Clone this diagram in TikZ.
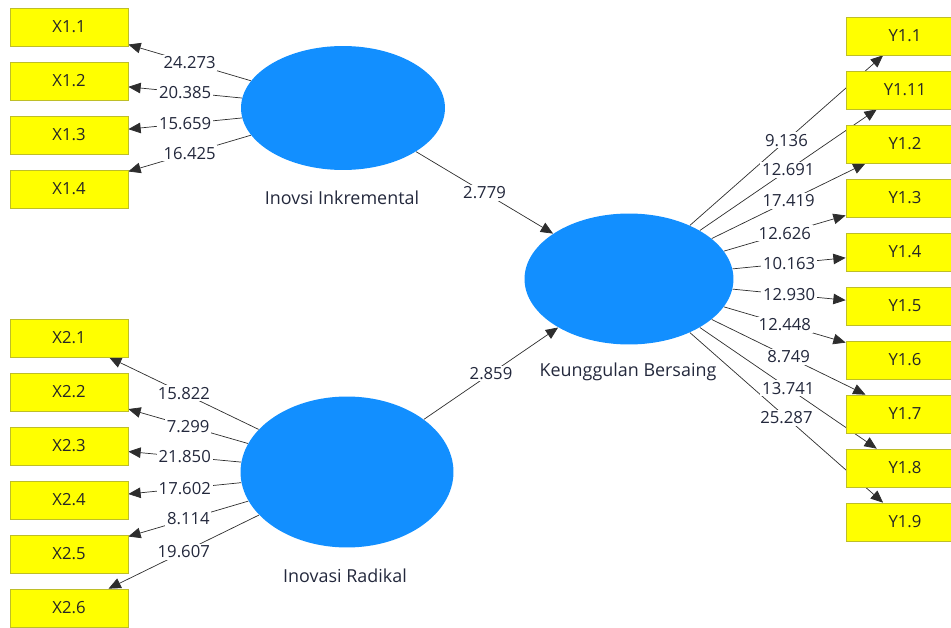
\documentclass[tikz,border=0pt]{standalone}
\usepackage{fontspec}
\setmainfont{Open Sans}
\usetikzlibrary{shapes.geometric,arrows.meta,backgrounds}
\definecolor{lvblue}{RGB}{18,143,255}
\definecolor{indyellow}{RGB}{255,255,0}
\definecolor{indborder}{RGB}{190,190,40}
\definecolor{pathgray}{RGB}{45,45,45}
\definecolor{valtext}{RGB}{35,40,60}
\begin{document}
\begin{tikzpicture}[x=0.02cm,y=-0.02cm,font=\fontsize{9.5}{11}\selectfont,
    indicator/.style={draw=indborder,fill=indyellow,minimum width=2.36cm,minimum height=0.76cm,inner sep=0pt,text=black!85},
    latent/.style={ellipse,fill=lvblue,inner sep=0pt},
    lvname/.style={text=valtext,font=\fontsize{10.2}{12}\selectfont},
    pathline/.style={draw=pathgray,-{Triangle[length=7pt,width=6pt]}},
    coef/.style={fill=white,inner sep=1pt,text=valtext}]
  \useasboundingbox (0,0) rectangle (951,628);

  \node[latent,minimum width=4.08cm,minimum height=2.48cm] (inkr) at (343,108) {};
  \node[latent,minimum width=4.26cm,minimum height=3.02cm] (radk) at (347,472) {};
  \node[latent,minimum width=4.18cm,minimum height=2.62cm] (kb) at (629,279) {};
  \node[lvname] (inkrName) at (342,198) {Inovsi Inkremental};
  \node[lvname] (radkName) at (345,576) {Inovasi Radikal};
  \node[lvname] (kbName) at (628,372) {Keunggulan Bersaing};

  \foreach \k in {1,...,4}
    \node[indicator] (x1\k) at (69,{54*\k-27}) {X1.\k};
  \foreach \k in {1,...,6}
    \node[indicator] (x2\k) at (69,{54*\k+284}) {X2.\k};
  \foreach \lab [count=\k] in {Y1.1,Y1.11,Y1.2,Y1.3,Y1.4,Y1.5,Y1.6,Y1.7,Y1.8,Y1.9}
    \node[indicator] (y\k) at (905,{54*\k-18}) {\lab};

  \begin{scope}[on background layer]
    \foreach \k in {1,...,4} \draw[pathline] (inkr) -- (x1\k);
    \foreach \k in {1,...,6} \draw[pathline] (radk) -- (x2\k);
    \foreach \k in {1,...,10} \draw[pathline] (kb) -- (y\k);
    \draw[pathline] (inkr) -- (kb);
    \draw[pathline] (radk) -- (kb);
  \end{scope}

  \foreach \k/\v in {1/24.273,2/20.385,3/15.659,4/16.425}
    \path (inkr) -- node[coef] {\v} (x1\k);
  \foreach \k/\v in {1/15.822,2/7.299,3/21.850,4/17.602,5/8.114,6/19.607}
    \path (radk) -- node[coef] {\v} (x2\k);
  \foreach \k/\v in {1/9.136,2/12.691,3/17.419,4/12.626,5/10.163,6/12.930,7/12.448,8/8.749,9/13.741,10/25.287}
    \path (kb) -- node[coef] {\v} (y\k);
  \path (inkr) -- node[coef] {2.779} (kb);
  \path (radk) -- node[coef] {2.859} (kb);
\end{tikzpicture}
\end{document}
